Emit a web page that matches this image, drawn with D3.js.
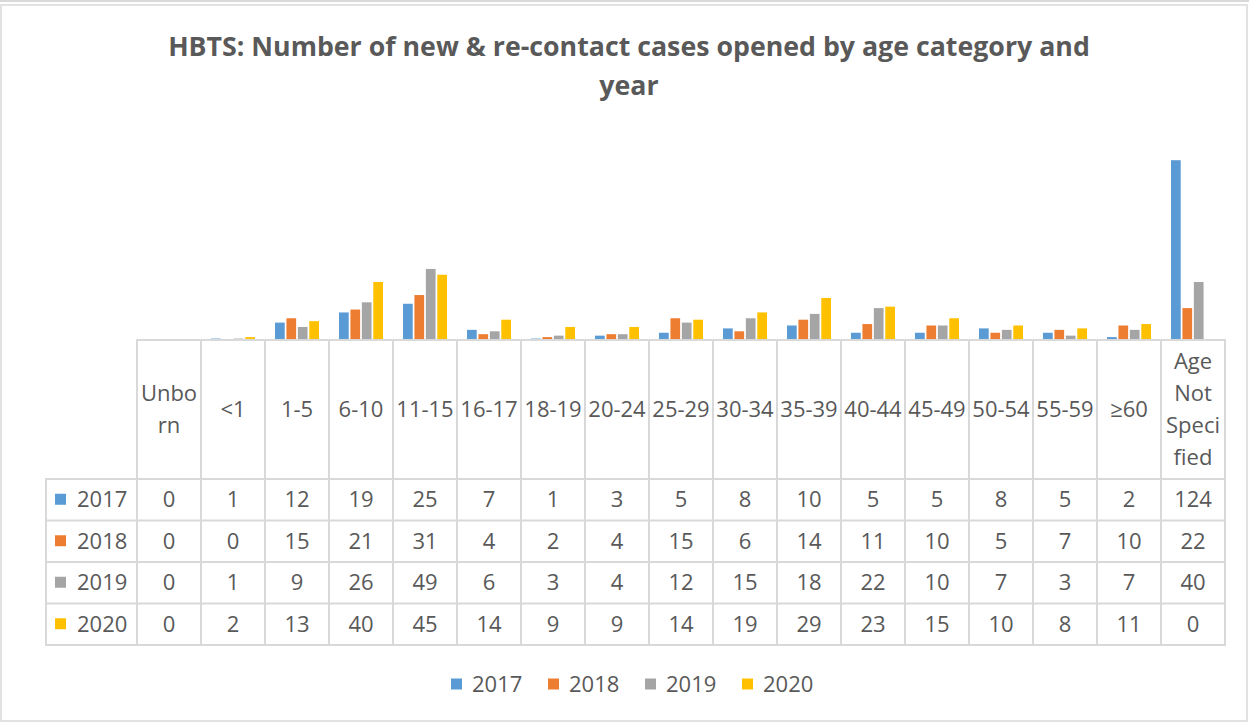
<!DOCTYPE html>
<html>
<head>
<meta charset="utf-8">
<script src="https://cdn.jsdelivr.net/npm/d3@7"></script>
<style>
  body { margin: 0; background: #fff; }
  svg text { font-family: "Open Sans", "Liberation Sans", sans-serif; fill: #595959; }
</style>
</head>
<body>
<div id="chart"></div>
<script>
// data
var categories = ["Unborn", "<1", "1-5", "6-10", "11-15", "16-17", "18-19", "20-24", "25-29",
    "30-34", "35-39", "40-44", "45-49", "50-54", "55-59", "\u226560", "Age Not Specified"];
var years = ["2017", "2018", "2019", "2020"];
var cases2017 = [0, 1, 12, 19, 25, 7, 1, 3, 5, 8, 10, 5, 5, 8, 5, 2, 124];
var cases2018 = [0, 0, 15, 21, 31, 4, 2, 4, 15, 6, 14, 11, 10, 5, 7, 10, 22];
var cases2019 = [0, 1, 9, 26, 49, 6, 3, 4, 12, 15, 18, 22, 10, 7, 3, 7, 40];
var cases2020 = [0, 2, 13, 40, 45, 14, 9, 9, 14, 19, 29, 23, 15, 10, 8, 11, 0];
var colors = ["#5B9BD5", "#ED7D31", "#A5A5A5", "#FFC000"];

var series = [cases2017, cases2018, cases2019, cases2020];

var W = 1249, H = 724;
var gridColor = "#d9d9d9";

var svg = d3.select("#chart").append("svg")
    .attr("width", W)
    .attr("height", H);

// chart frame
svg.append("line")
    .attr("x1", 0).attr("x2", W).attr("y1", 1).attr("y2", 1)
    .attr("stroke", gridColor).attr("stroke-width", 2);
svg.append("rect")
    .attr("x", 1).attr("y", 5)
    .attr("width", W - 3).attr("height", H - 8)
    .attr("fill", "#fff")
    .attr("stroke", gridColor).attr("stroke-width", 1.5);

// title, fitted to the width it has in the picture
var title1 = svg.append("text")
    .attr("x", 629).attr("y", 56)
    .attr("text-anchor", "middle")
    .style("font-weight", "bold")
    .style("font-size", "24px")
    .text("HBTS: Number of new & re-contact cases opened by age category and");
var tw = title1.node().getComputedTextLength();
var titleSize = 24 * 922 / tw;
title1.style("font-size", titleSize + "px");
svg.append("text")
    .attr("x", 629).attr("y", 95)
    .attr("text-anchor", "middle")
    .style("font-weight", "bold")
    .style("font-size", titleSize + "px")
    .text("year");

// scales
var tableLeft = 137, tableRight = 1225;
var x0 = d3.scaleBand()
    .domain(categories)
    .range([tableLeft, tableRight])
    .paddingInner(0.3125)
    .paddingOuter(0.15625);
var x1 = d3.scaleBand()
    .domain(years)
    .range([0, x0.bandwidth()])
    .paddingInner(0.15);
var y = d3.scaleLinear()
    .domain([0, 140])
    .range([340, 137]);

// bars
var groups = svg.selectAll("g.year")
    .data(series)
    .enter().append("g")
    .attr("class", "year")
    .attr("fill", function(d, i) { return colors[i]; });

groups.selectAll("rect")
    .data(function(d, i) { return d.map(function(v, j) { return {v: v, c: categories[j], yr: years[i]}; }); })
    .enter().append("rect")
    .attr("x", function(d) { return x0(d.c) + x1(d.yr); })
    .attr("y", function(d) { return y(d.v); })
    .attr("width", x1.bandwidth())
    .attr("height", function(d) { return y(0) - y(d.v); });

// data table
var colW = (tableRight - tableLeft) / categories.length;
var headTop = 340, headBottom = 479, rowH = 41.5;
var labelLeft = 46;
var fontSize = 22;
var bottom = headBottom + rowH * years.length;

var table = svg.append("g").attr("class", "table");

// vertical lines
d3.range(categories.length + 1).forEach(function(i) {
    table.append("line")
        .attr("x1", tableLeft + i * colW).attr("x2", tableLeft + i * colW)
        .attr("y1", headTop).attr("y2", bottom)
        .attr("stroke", gridColor).attr("stroke-width", 2);
});
table.append("line")
    .attr("x1", labelLeft).attr("x2", labelLeft)
    .attr("y1", headBottom).attr("y2", bottom)
    .attr("stroke", gridColor).attr("stroke-width", 2);
// horizontal lines
table.append("line")
    .attr("x1", tableLeft - 1).attr("x2", tableRight + 1)
    .attr("y1", headTop).attr("y2", headTop)
    .attr("stroke", gridColor).attr("stroke-width", 2);
d3.range(years.length + 1).forEach(function(i) {
    table.append("line")
        .attr("x1", labelLeft - 1).attr("x2", tableRight + 1)
        .attr("y1", headBottom + i * rowH).attr("y2", headBottom + i * rowH)
        .attr("stroke", gridColor).attr("stroke-width", 2);
});

// wrap a header label like Excel does: by word, then by character
var measure = svg.append("text").style("font-size", fontSize + "px");
function textWidth(s) { measure.text(s); return measure.node().getComputedTextLength(); }
function wrap(label, maxW) {
    var lines = [];
    label.split(" ").forEach(function(word) {
        var cur = "";
        word.split("").forEach(function(ch) {
            if (cur && textWidth(cur + ch) > maxW) { lines.push(cur); cur = ch; }
            else cur += ch;
        });
        if (cur) lines.push(cur);
    });
    return lines;
}

var lineH = 32;
categories.forEach(function(c) {
    var lines = wrap(c, colW - 4);
    var cx = x0(c) + x0.bandwidth() / 2;
    var cy = (headTop + headBottom) / 2;
    var t = table.append("text")
        .attr("text-anchor", "middle")
        .style("font-size", fontSize + "px");
    lines.forEach(function(l, k) {
        t.append("tspan")
            .attr("x", cx)
            .attr("y", cy + (k - (lines.length - 1) / 2) * lineH)
            .attr("dy", "0.35em")
            .text(l);
    });
});
measure.remove();

// rows
years.forEach(function(yr, i) {
    var cy = headBottom + rowH * (i + 0.5);
    table.append("rect")
        .attr("x", 55).attr("y", cy - 6)
        .attr("width", 11).attr("height", 11)
        .attr("fill", colors[i]);
    table.append("text")
        .attr("x", 77).attr("y", cy)
        .attr("dy", "0.35em")
        .style("font-size", fontSize + "px")
        .text(yr);
    series[i].forEach(function(v, j) {
        table.append("text")
            .attr("x", x0(categories[j]) + x0.bandwidth() / 2)
            .attr("y", cy)
            .attr("dy", "0.35em")
            .attr("text-anchor", "middle")
            .style("font-size", fontSize + "px")
            .text(v);
    });
});

// legend
var legend = svg.append("g").attr("class", "legend");
years.forEach(function(yr, i) {
    var lx = 451 + i * 97, ly = 684;
    legend.append("rect")
        .attr("x", lx).attr("y", ly - 5.5)
        .attr("width", 11).attr("height", 11)
        .attr("fill", colors[i]);
    legend.append("text")
        .attr("x", lx + 21).attr("y", ly)
        .attr("dy", "0.35em")
        .style("font-size", fontSize + "px")
        .text(yr);
});
</script>
</body>
</html>
